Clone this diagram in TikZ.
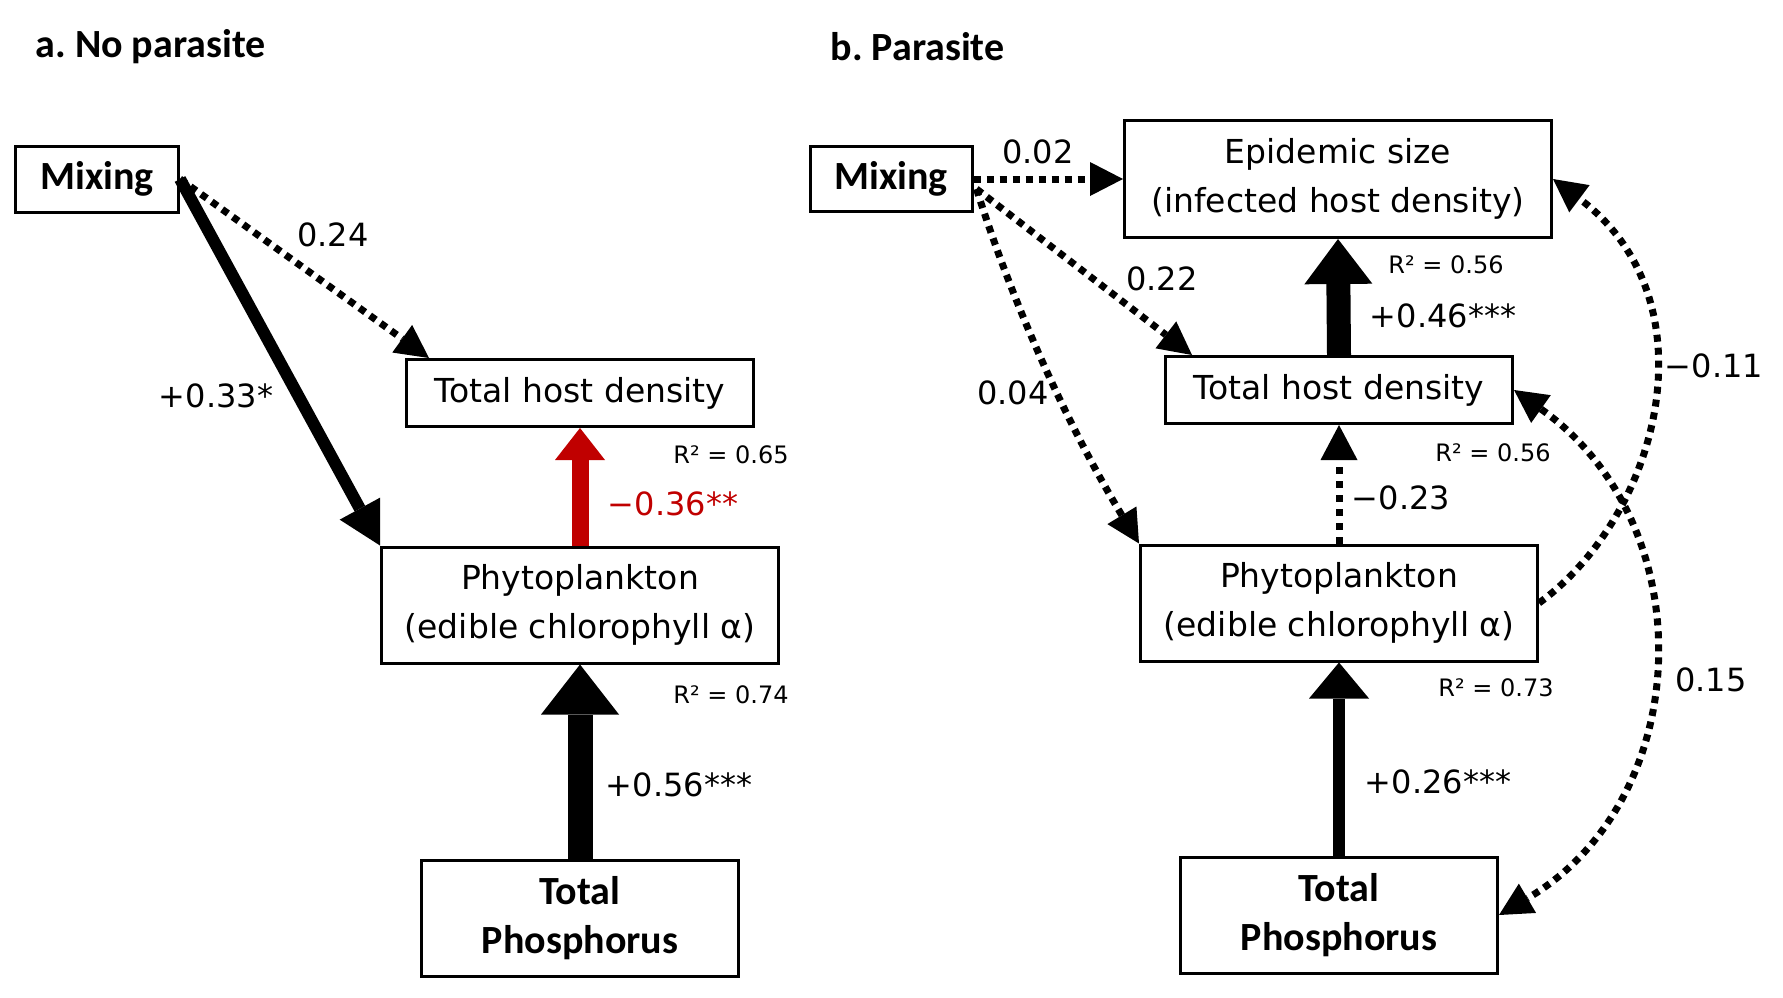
\documentclass[tikz,border=0pt]{standalone}
\usepackage{fontspec}
\setmainfont{DejaVu Sans}
\newfontfamily\boldsans{Carlito}
\usetikzlibrary{arrows.meta,positioning,calc}
\definecolor{pathred}{RGB}{192,0,0}

\begin{document}
\begin{tikzpicture}[x=1pt, y=-1pt,
		var/.style={draw, line width=3pt, inner sep=0pt, align=center, font=\fontsize{33}{49}\selectfont},
		exo/.style={var, font=\fontsize{40}{49}\boldsans\bfseries},
		title/.style={anchor=west, font=\fontsize{40}{48}\boldsans\bfseries},
		coef/.style={font=\fontsize{32}{38}\selectfont},
		rsq/.style={font=\fontsize{24}{28}\selectfont},
		dotpath/.style={line width=7pt, dash pattern=on 7pt off 6pt, -{Triangle[length=33pt,width=34pt,line width=0pt]}},
		dotboth/.style={dotpath, {Triangle[length=33pt,width=34pt,line width=0pt]}-{Triangle[length=33pt,width=34pt,line width=0pt]}}]
	\useasboundingbox (0,0) rectangle (1783,998);
	
	% a. 无寄生虫
	\node[title] (ta) at (32,47) {a.\ No parasite};
	\node[exo, minimum width=163pt, minimum height=66pt] (mixa) at (97,179) {Mixing};
	\node[var, minimum width=347pt, minimum height=67pt] (tha) at (580,393) {Total host density};
	\node[var, minimum width=397pt, minimum height=116pt] (phya) at (580,605) {Phytoplankton\\(edible chlorophyll α)};
	\node[exo, minimum width=317pt, minimum height=116pt] (tpa) at (580,918) {Total\\Phosphorus};
	
	\draw[line width=12pt, -{Triangle[length=42pt,width=46pt,line width=0pt]}] (mixa.east) -- (phya.north west);
	\draw[dotpath] (mixa.east) -- ($(tha.north west)+(24,0)$);
	\draw[pathred, line width=17pt, -{Triangle[length=32pt,width=50pt,line width=0pt]}] (phya.north) -- (tha.south);
	\draw[line width=25pt, -{Triangle[length=50pt,width=78pt,line width=0pt]}] (tpa.north) -- (phya.south);
	
	\node[coef] (ca1) at (333,235) {0.24};
	\node[coef] (ca2) at (216,396) {+0.33*};
	\node[coef, text=pathred] (ca3) at (673,504) {−0.36**};
	\node[coef] (ca4) at (679,785) {+0.56***};
	\node[rsq] (ra1) at (731,455) {R² = 0.65};
	\node[rsq] (ra2) at (731,695) {R² = 0.74};
	
	% b. 有寄生虫
	\node[title] (tb) at (827,47) {b.\ Parasite};
	\node[exo, minimum width=162pt, minimum height=65pt] (mixb) at (891,179) {Mixing};
	\node[var, minimum width=427pt, minimum height=117pt] (epi) at (1338,179) {Epidemic size\\(infected host density)};
	\node[var, minimum width=347pt, minimum height=67pt] (thb) at (1339,390) {Total host density};
	\node[var, minimum width=397pt, minimum height=116pt] (phb) at (1339,603) {Phytoplankton\\(edible chlorophyll α)};
	\node[exo, minimum width=317pt, minimum height=116pt] (tpb) at (1339,915) {Total\\Phosphorus};
	
	\draw[dotpath] (mixb.east) -- (epi.west);
	\draw[dotpath] ($(mixb.east)+(3,10)$) -- ($(thb.north west)+(28,0)$);
	\draw[dotpath] ($(mixb.east)+(3,10)$) .. controls (1016,314) and (1072,433) .. (phb.north west);
	\draw[line width=24pt, -{Triangle[length=45pt,width=68pt,line width=0pt]}] (thb.north) -- (epi.south);
	\draw[line width=7pt, dash pattern=on 7pt off 7pt, -{Triangle[length=35pt,width=37pt,line width=0pt]}] (phb.north) -- (thb.south);
	\draw[line width=12pt, -{Triangle[length=36pt,width=60pt,line width=0pt]}] (tpb.north) -- (phb.south);
	
	% 弯曲的路径
	\draw[dotpath] (phb.east) .. controls (1660,515) and (1715,300) .. (epi.east);
	\draw[dotboth] (thb.east) .. controls (1705,525) and (1695,800) .. (tpb.east);
	
	\node[coef] (cb1) at (1038,152) {0.02};
	\node[coef] (cb2) at (1162,279) {0.22};
	\node[coef] (cb3) at (1013,393) {0.04};
	\node[coef] (cb4) at (1443,316) {+0.46***};
	\node[coef] (cb5) at (1401,498) {−0.23};
	\node[coef] (cb6) at (1438,782) {+0.26***};
	\node[coef] (cb7) at (1714,366) {−0.11};
	\node[coef] (cb8) at (1711,680) {0.15};
	\node[rsq] (rb1) at (1446,265) {R² = 0.56};
	\node[rsq] (rb2) at (1493,453) {R² = 0.56};
	\node[rsq] (rb3) at (1496,688) {R² = 0.73};
\end{tikzpicture}
\end{document}
